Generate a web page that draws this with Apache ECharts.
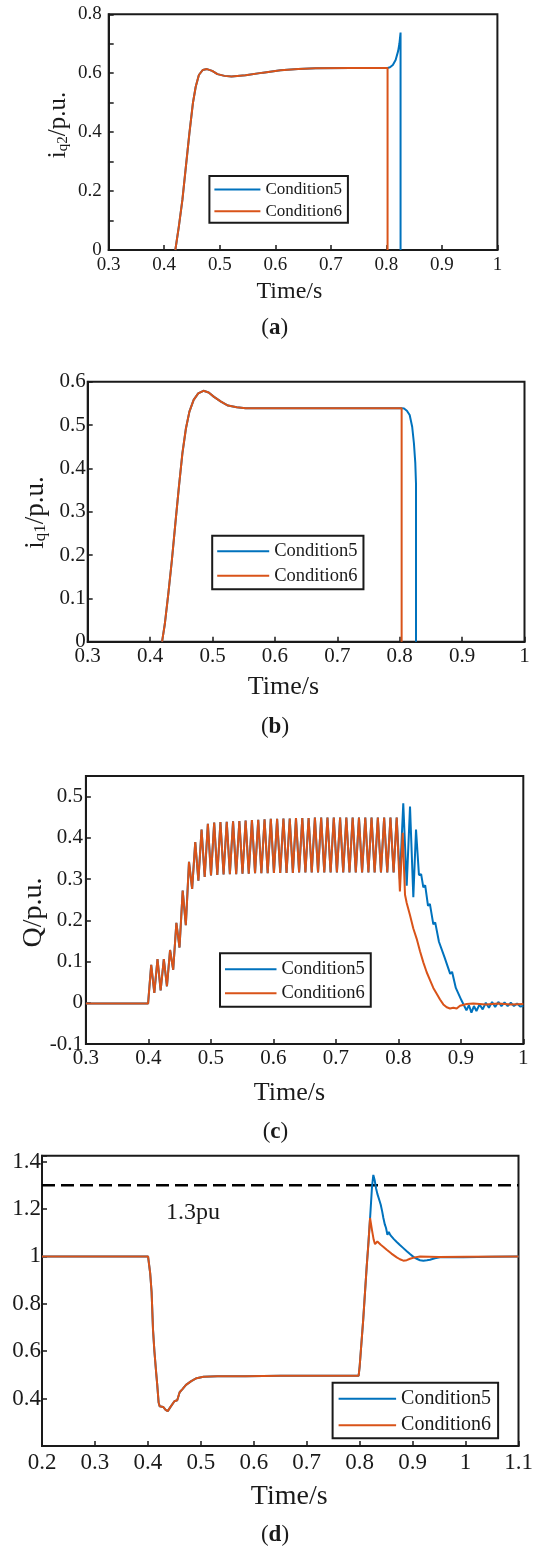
<!DOCTYPE html>
<html>
<head>
<meta charset="utf-8">
<title>Condition5 / Condition6</title>
<script src="https://cdn.jsdelivr.net/npm/echarts@6.0.0/dist/echarts.min.js"></script>
<style>
  html, body { margin: 0; padding: 0; background: #fff; }
  #chart { width: 550px; height: 1555px; }
</style>
</head>
<body>
<div id="chart"></div>
<script>
// ---- (a) i_q2 ----
const timeA6 = [0.4200, 0.4263, 0.4327, 0.4390, 0.4453, 0.4516, 0.4567, 0.4624, 0.4693, 0.4769, 0.4864,
  0.4958, 0.5085, 0.5211, 0.5464, 0.5780, 0.6095, 0.6411, 0.6727, 0.7359, 0.8022, 0.8022];
const iq2A6 = [0, 0.079, 0.170, 0.283, 0.396, 0.498, 0.554, 0.594, 0.611, 0.614, 0.608,
  0.597, 0.591, 0.589, 0.593, 0.602, 0.610, 0.614, 0.617, 0.618, 0.618, 0];
const timeA5 = [0.8066, 0.8117, 0.8167, 0.8212, 0.8235, 0.8256, 0.8256];
const iq2A5 = [0.620, 0.628, 0.645, 0.675, 0.700, 0.738, 0];

// ---- (b) i_q1 ----
const timeB6 = [0.4192, 0.4237, 0.4293, 0.4349, 0.4405, 0.4462, 0.4518, 0.4574, 0.4630, 0.4698, 0.4771,
  0.4855, 0.4939, 0.5024, 0.5136, 0.5248, 0.5389, 0.5530, 0.6654, 0.8031, 0.8031];
const iq1B6 = [0, 0.042, 0.112, 0.188, 0.273, 0.358, 0.435, 0.492, 0.531, 0.558, 0.573,
  0.579, 0.575, 0.565, 0.554, 0.545, 0.541, 0.539, 0.539, 0.539, 0];
const timeB5 = [0.8070, 0.8115, 0.8160, 0.8200, 0.8228, 0.8250, 0.8261, 0.8261];
const iq1B5 = [0.538, 0.533, 0.523, 0.496, 0.458, 0.412, 0.365, 0];

// ---- (c) Q ----
const timeC6 = [0.3000, 0.3500, 0.3995,
  0.4045, 0.4095, 0.4146, 0.4196, 0.4247, 0.4297, 0.4347, 0.4397, 0.4448, 0.4498,
  0.4549, 0.4599, 0.4650, 0.4700, 0.4750, 0.4800, 0.4851, 0.4901, 0.4952, 0.5002,
  0.5053, 0.5103, 0.5153, 0.5203, 0.5254, 0.5304, 0.5355, 0.5405, 0.5456, 0.5506,
  0.5556, 0.5606, 0.5657, 0.5707, 0.5758, 0.5808, 0.5859, 0.5909, 0.5959, 0.6009,
  0.6060, 0.6110, 0.6161, 0.6211, 0.6262, 0.6312, 0.6362, 0.6412, 0.6463, 0.6513,
  0.6564, 0.6614, 0.6665, 0.6715, 0.6765, 0.6815, 0.6866, 0.6916, 0.6967, 0.7017,
  0.7068, 0.7118, 0.7168, 0.7218, 0.7269, 0.7319, 0.7370, 0.7420, 0.7471, 0.7521,
  0.7571, 0.7621, 0.7672, 0.7722, 0.7773, 0.7823, 0.7874, 0.7924, 0.7974,
  0.8025, 0.8070, 0.8107, 0.8134, 0.8187, 0.8240, 0.8294, 0.8347, 0.8400, 0.8454,
  0.8507, 0.8560, 0.8614, 0.8667, 0.8720, 0.8774, 0.8827, 0.8880, 0.8934, 0.8987,
  0.9094, 0.9200, 0.9400, 0.9600, 0.9800, 1.0000];
const qC6 = [-0.002, -0.002, -0.002,
  0.092, 0.024, 0.106, 0.030, 0.106, 0.040, 0.128, 0.080, 0.194, 0.134,
  0.272, 0.188, 0.342, 0.276, 0.390, 0.296, 0.420, 0.305, 0.434, 0.309,
  0.437, 0.310, 0.438, 0.311, 0.439, 0.312, 0.440, 0.312, 0.441, 0.313,
  0.442, 0.313, 0.443, 0.314, 0.444, 0.314, 0.445, 0.314, 0.446, 0.315,
  0.446, 0.315, 0.447, 0.315, 0.447, 0.315, 0.448, 0.316, 0.448, 0.316,
  0.448, 0.316, 0.449, 0.316, 0.449, 0.316, 0.449, 0.316, 0.449, 0.316,
  0.449, 0.316, 0.449, 0.316, 0.449, 0.316, 0.449, 0.316, 0.449, 0.316,
  0.449, 0.316, 0.449, 0.316, 0.449, 0.316, 0.449, 0.316, 0.449,
  0.270, 0.412, 0.262, 0.242, 0.212, 0.180, 0.155, 0.125, 0.098, 0.074,
  0.055, 0.036, 0.022, 0.008, -0.004, -0.011, -0.014, -0.012, -0.014, -0.007,
  -0.003, -0.002, -0.004, -0.002, -0.004, -0.003];
const timeC5 = [0.8025, 0.8079, 0.8134, 0.8187, 0.8240, 0.8283, 0.8330, 0.8365, 0.8400, 0.8430,
  0.8475, 0.8505, 0.8560, 0.8590, 0.8650, 0.8680, 0.8740, 0.8770, 0.8830, 0.8860,
  0.8920, 0.8950, 0.9010, 0.9040, 0.9090, 0.9130, 0.9170, 0.9210, 0.9250, 0.9300,
  0.9350, 0.9400, 0.9450, 0.9500, 0.9550, 0.9600, 0.9650, 0.9700, 0.9750, 0.9800,
  0.9850, 0.9900, 0.9950, 1.0000];
const qC5 = [0.300, 0.484, 0.284, 0.476, 0.256, 0.420, 0.310, 0.312, 0.280, 0.285,
  0.235, 0.240, 0.190, 0.195, 0.148, 0.152, 0.110, 0.112, 0.070, 0.075,
  0.036, 0.040, 0.006, 0.008, -0.018, -0.006, -0.024, -0.008, -0.020, -0.004,
  -0.016, 0.000, -0.012, 0.002, -0.010, 0.002, -0.008, 0.001, -0.008, 0.000,
  -0.008, -0.002, -0.009, -0.008];

// ---- (d) voltage ----
const timeD6 = [0.2000, 0.4003, 0.4043, 0.4070, 0.4097, 0.4123, 0.4156, 0.4176, 0.4202, 0.4222,
  0.4288, 0.4335, 0.4375, 0.4421, 0.4454, 0.4501, 0.4554, 0.4600, 0.4653, 0.4720,
  0.4819, 0.4919, 0.5051, 0.5316, 0.5846, 0.6509, 0.7172, 0.7980, 0.8000, 0.8067,
  0.8133, 0.8166, 0.8196, 0.8232, 0.8265, 0.8290, 0.8334, 0.8398, 0.8450, 0.8511,
  0.8600, 0.8700, 0.8760, 0.8825, 0.8890, 0.8951, 0.9040, 0.9140, 0.9500, 1.0000, 1.1000];
const uD6 = [1.000, 1.000, 0.930, 0.850, 0.690, 0.600, 0.510, 0.460, 0.385, 0.368,
  0.365, 0.352, 0.347, 0.363, 0.357, 0.389, 0.393, 0.427, 0.440, 0.458,
  0.474, 0.486, 0.492, 0.494, 0.494, 0.496, 0.496, 0.496, 0.536, 0.733,
  0.958, 1.056, 1.162, 1.112, 1.070, 1.052, 1.063, 1.049, 1.040, 1.028,
  1.012, 0.996, 0.988, 0.982, 0.984, 0.990, 0.996, 1.000, 0.998, 0.999, 1.000];
const timeD5 = [0.8166, 0.8199, 0.8232, 0.8258, 0.8285, 0.8309, 0.8333, 0.8353, 0.8375, 0.8398,
  0.8425, 0.8448, 0.8475, 0.8498, 0.8524, 0.8550, 0.8580, 0.8606, 0.8650, 0.8700,
  0.8760, 0.8825, 0.8890, 0.8951, 0.9015, 0.9078, 0.9140, 0.9203, 0.9270, 0.9329,
  0.9420, 0.9518, 0.9700, 0.9958, 1.0500, 1.1000];
const uD5 = [1.060, 1.170, 1.290, 1.344, 1.320, 1.288, 1.265, 1.262, 1.235, 1.218,
  1.190, 1.162, 1.135, 1.120, 1.091, 1.103, 1.090, 1.084, 1.072, 1.061,
  1.048, 1.035, 1.022, 1.010, 0.998, 0.990, 0.984, 0.982, 0.984, 0.986,
  0.992, 0.996, 0.997, 0.997, 0.999, 1.000];
const limitTime = [0.2, 1.1];
const limitValue = [1.3, 1.3];

const FONT = 'Liberation Serif';
const INK = '#1a1a1a';
const BLUE = '#0072BD';
const ORANGE = '#D95319';

function pairs(ts, vs) {
  return ts.map((t, k) => [t, vs[k]]);
}

// Condition5 follows Condition6 until tEnd, then goes its own way
function branch(ts6, vs6, tEnd, ts5, vs5) {
  const n = ts6.findIndex(t => t >= tEnd) + 1;
  return pairs(ts6.slice(0, n).concat(ts5), vs6.slice(0, n).concat(vs5));
}

function onStep(v, step) {
  const r = Math.round(v / step) * step;
  return Math.abs(v - r) < 1e-6;
}
function num(v) {
  return String(parseFloat(v.toFixed(3)));
}

const panels = [
  { grid: { left: 108.7, top: 14.3, width: 388.7, height: 235.7 },
    x: [0.3, 1.0], y: [0, 0.8], yStep: 0.1, fs: 19, margin: 6, yMargin: 7,
    yLabel: v => onStep(v, 0.2) ? num(v) : '' },
  { grid: { left: 87.7, top: 381.7, width: 436.8, height: 260 },
    x: [0.3, 1.0], y: [0, 0.6], yStep: 0.1, fs: 21, margin: 4, yMargin: 2,
    yLabel: v => onStep(v, 0.1) ? num(v) : '' },
  { grid: { left: 85.9, top: 776, width: 437.4, height: 268 },
    x: [0.3, 1.0], y: [-0.1, 0.55], yStep: 0.1, fs: 21, margin: 4, yMargin: 3,
    yLabel: v => onStep(v, 0.1) ? num(v) : '' },
  { grid: { left: 42, top: 1155.7, width: 476.5, height: 290.3 },
    x: [0.2, 1.1], y: [0.2, 1.425], yStep: 0.2, fs: 23, margin: 5, yMargin: 1,
    yLabel: v => (onStep(v, 0.2) && v > 0.3) ? num(v) : '' },
];

const axisCommon = (fs, margin) => ({
  type: 'value',
  axisLine: { show: true, onZero: false, lineStyle: { color: INK, width: 2 } },
  axisTick: { show: true, inside: true, length: 5, lineStyle: { color: INK, width: 1.5 } },
  splitLine: { show: false },
  axisLabel: { fontFamily: FONT, fontSize: fs, color: INK, margin: margin, showMinLabel: true, showMaxLabel: true },
});

const grid = panels.map(p => Object.assign({
  show: true, borderColor: INK, borderWidth: 2, backgroundColor: 'transparent', containLabel: false,
}, p.grid));

const xAxis = panels.map((p, i) => {
  const ax = axisCommon(p.fs, p.margin);
  ax.gridIndex = i;
  ax.min = p.x[0];
  ax.max = p.x[1];
  ax.interval = 0.1;
  ax.axisLabel.formatter = v => onStep(v, 0.1) ? num(v) : '';
  return ax;
});

const yAxis = panels.map((p, i) => {
  const ax = axisCommon(p.fs, p.yMargin);
  ax.gridIndex = i;
  ax.min = p.y[0];
  ax.max = p.y[1];
  ax.interval = p.yStep;
  ax.axisLabel.formatter = p.yLabel;
  return ax;
});

function curve(name, color, i, data) {
  return {
    name, type: 'line', xAxisIndex: i, yAxisIndex: i, data,
    symbol: 'none', showSymbol: false, silent: true,
    lineStyle: { color, width: 2 }, itemStyle: { color },
  };
}

const series = [
  curve('Condition5', BLUE, 0, branch(timeA6, iq2A6, 0.8022, timeA5, iq2A5)),
  curve('Condition6', ORANGE, 0, pairs(timeA6, iq2A6)),
  curve('Condition5', BLUE, 1, branch(timeB6, iq1B6, 0.8031, timeB5, iq1B5)),
  curve('Condition6', ORANGE, 1, pairs(timeB6, iq1B6)),
  curve('Condition5', BLUE, 2, branch(timeC6, qC6, 0.7974, timeC5, qC5)),
  curve('Condition6', ORANGE, 2, pairs(timeC6, qC6)),
  {
    name: 'limit', type: 'line', xAxisIndex: 3, yAxisIndex: 3,
    data: pairs(limitTime, limitValue), symbol: 'none', silent: true,
    lineStyle: { color: '#000', width: 2.5, type: [13, 6] },
  },
  curve('Condition5', BLUE, 3, branch(timeD6, uD6, 0.8133, timeD5, uD5)),
  curve('Condition6', ORANGE, 3, pairs(timeD6, uD6)),
];

function legendAt(left, top, fs, lineW, gap, pad) {
  return {
    data: ['Condition5', 'Condition6'],
    orient: 'vertical', left, top,
    icon: 'rect', itemWidth: lineW, itemHeight: 2, itemGap: gap,
    padding: pad, selectedMode: false,
    backgroundColor: '#fff', borderColor: INK, borderWidth: 2, borderRadius: 0,
    textStyle: { fontFamily: FONT, fontSize: fs, color: INK },
  };
}

const legend = [
  legendAt(209.4, 176, 17, 46, 4.7, [5, 6, 3, 5]),
  legendAt(212.2, 535.7, 18.5, 52, 5.5, [6, 6, 4, 5]),
  legendAt(220, 953.3, 18.5, 51.5, 5, [6.5, 6, 4, 5]),
  legendAt(332.6, 1382.7, 20, 57.5, 6.5, [6, 7, 3, 6]),
];

function label(x, y, text, rich, rotation) {
  return {
    type: 'text', x, y, rotation: rotation || 0, silent: true,
    style: {
      text, rich, fill: INK,
      align: 'center', verticalAlign: 'middle',
      textAlign: 'center', textVerticalAlign: 'middle',
    },
  };
}
const serif = (fs, extra) => Object.assign({ fontFamily: FONT, fontSize: fs, fill: INK, color: INK }, extra || {});

const graphic = [
  // y axis names
  label(57.9, 125, '{m|i}{s|q2}{m|/p.u.}',
    { m: serif(25, { verticalAlign: 'bottom', lineHeight: 26 }), s: serif(15, { verticalAlign: 'bottom', lineHeight: 16 }) }, Math.PI / 2),
  label(35, 512.5, '{m|i}{s|q1}{m|/p.u.}',
    { m: serif(27, { verticalAlign: 'bottom', lineHeight: 28 }), s: serif(17, { verticalAlign: 'bottom', lineHeight: 18 }) }, Math.PI / 2),
  label(33.3, 912.5, '{m|Q/p.u.}', { m: serif(28) }, Math.PI / 2),
  // x axis names
  label(289.4, 291.7, '{m|Time/s}', { m: serif(24) }),
  label(283.4, 686.7, '{m|Time/s}', { m: serif(26) }),
  label(289.4, 1093.3, '{m|Time/s}', { m: serif(26) }),
  label(289.2, 1496.7, '{m|Time/s}', { m: serif(28) }),
  // panel captions
  label(274.7, 328.3, '{n|(}{b|a}{n|)}', { n: serif(23), b: serif(23, { fontWeight: 'bold' }) }),
  label(275, 726.7, '{n|(}{b|b}{n|)}', { n: serif(23), b: serif(23, { fontWeight: 'bold' }) }),
  label(275.4, 1131.7, '{n|(}{b|c}{n|)}', { n: serif(23), b: serif(23, { fontWeight: 'bold' }) }),
  label(275, 1535, '{n|(}{b|d}{n|)}', { n: serif(23), b: serif(23, { fontWeight: 'bold' }) }),
  // threshold note
  label(193, 1212.5, '{m|1.3pu}', { m: serif(24) }),
];

const chart = echarts.init(document.getElementById('chart'), null, { renderer: 'canvas' });
chart.setOption({
  backgroundColor: '#fff',
  animation: false,
  grid, xAxis, yAxis, series, legend, graphic,
});
</script>
</body>
</html>
